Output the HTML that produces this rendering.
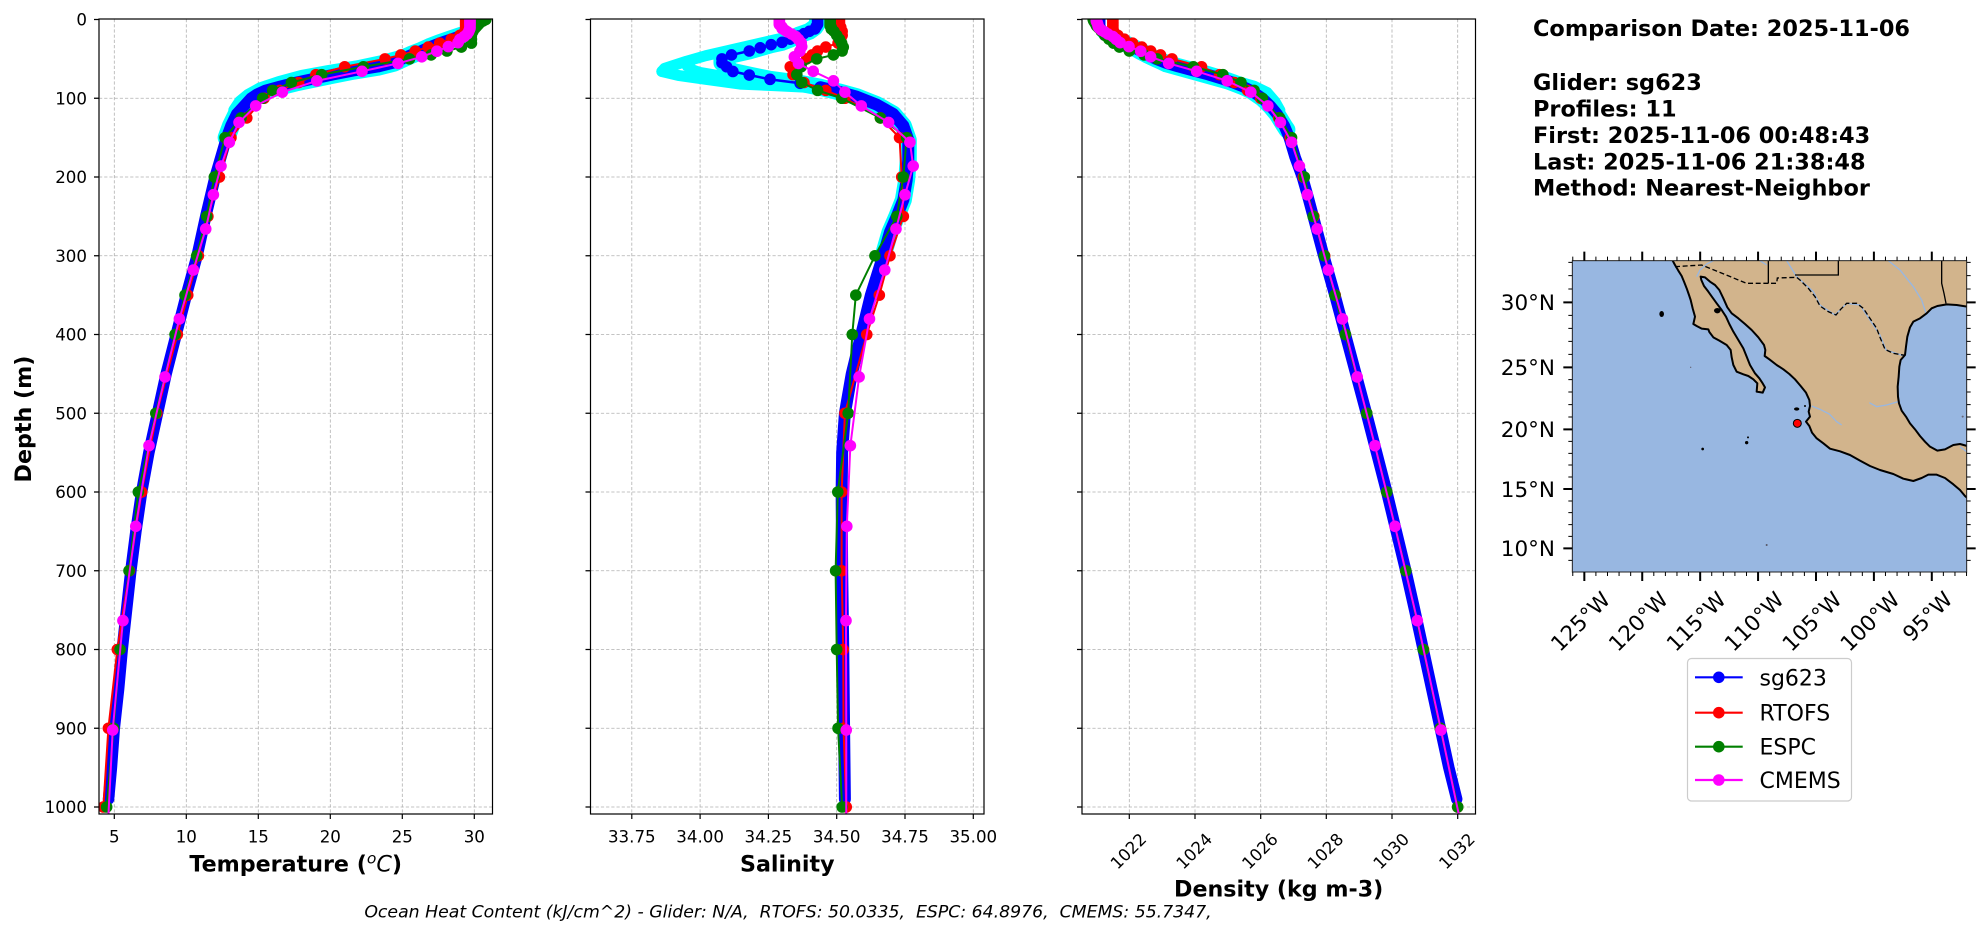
<!DOCTYPE html>
<html><head><meta charset="utf-8"><style>html,body{margin:0;padding:0;background:#fff}svg{display:block}</style></head>
<body>
<svg width="1978" height="934" viewBox="0 0 1978 934" xmlns="http://www.w3.org/2000/svg" font-family="DejaVu Sans, Liberation Sans, sans-serif">
<defs>
<clipPath id="c1"><rect x="99" y="19" width="393.5" height="795"/></clipPath>
<clipPath id="c2"><rect x="590.5" y="19" width="393.5" height="795"/></clipPath>
<clipPath id="c3"><rect x="1082" y="19" width="393.5" height="795"/></clipPath>
<clipPath id="cm"><rect x="277" y="32" width="1183" height="934"/></clipPath>
<marker id="tr" markerUnits="userSpaceOnUse" markerWidth="1" markerHeight="16" refX="0.5" refY="8" overflow="visible"><ellipse cx="0.5" cy="8" rx="0.4028" ry="7.365" fill="#ff0000"/></marker>
<marker id="tg" markerUnits="userSpaceOnUse" markerWidth="1" markerHeight="16" refX="0.5" refY="8" overflow="visible"><ellipse cx="0.5" cy="8" rx="0.4028" ry="7.365" fill="#008000"/></marker>
<marker id="tm" markerUnits="userSpaceOnUse" markerWidth="1" markerHeight="16" refX="0.5" refY="8" overflow="visible"><ellipse cx="0.5" cy="8" rx="0.4028" ry="7.365" fill="#ff00ff"/></marker>
<marker id="sb" markerUnits="userSpaceOnUse" markerWidth="0.05" markerHeight="16" refX="0.025" refY="8" overflow="visible"><ellipse cx="0.025" cy="8" rx="0.02123" ry="7.365" fill="#0000ff"/></marker>
<marker id="sr" markerUnits="userSpaceOnUse" markerWidth="0.05" markerHeight="16" refX="0.025" refY="8" overflow="visible"><ellipse cx="0.025" cy="8" rx="0.02123" ry="7.365" fill="#ff0000"/></marker>
<marker id="sg" markerUnits="userSpaceOnUse" markerWidth="0.05" markerHeight="16" refX="0.025" refY="8" overflow="visible"><ellipse cx="0.025" cy="8" rx="0.02123" ry="7.365" fill="#008000"/></marker>
<marker id="sm" markerUnits="userSpaceOnUse" markerWidth="0.05" markerHeight="16" refX="0.025" refY="8" overflow="visible"><ellipse cx="0.025" cy="8" rx="0.02123" ry="7.365" fill="#ff00ff"/></marker>
<marker id="dr" markerUnits="userSpaceOnUse" markerWidth="0.4" markerHeight="16" refX="0.2" refY="8" overflow="visible"><ellipse cx="0.2" cy="8" rx="0.1766" ry="7.365" fill="#ff0000"/></marker>
<marker id="dg" markerUnits="userSpaceOnUse" markerWidth="0.4" markerHeight="16" refX="0.2" refY="8" overflow="visible"><ellipse cx="0.2" cy="8" rx="0.1766" ry="7.365" fill="#008000"/></marker>
<marker id="dm" markerUnits="userSpaceOnUse" markerWidth="0.4" markerHeight="16" refX="0.2" refY="8" overflow="visible"><ellipse cx="0.2" cy="8" rx="0.1766" ry="7.365" fill="#ff00ff"/></marker>
</defs>
<rect width="1978" height="934" fill="#fff"/>

<!-- GRIDS -->
<g stroke="#b0b0b0" stroke-width="0.8" stroke-dasharray="3.2,2" fill="none">
<path d="M114.3 19V814M186.3 19V814M258.3 19V814M330.3 19V814M402.3 19V814M474.3 19V814"/>
<path d="M631.8 19V814M700.1 19V814M768.4 19V814M836.7 19V814M905 19V814M973.3 19V814"/>
<path d="M1129.3 19V814M1195 19V814M1260.7 19V814M1326.3 19V814M1392 19V814M1457.7 19V814"/>
<path d="M99 98.25H492.5M99 177H492.5M99 255.75H492.5M99 334.5H492.5M99 413.25H492.5M99 492H492.5M99 570.75H492.5M99 649.5H492.5M99 728.25H492.5M99 807H492.5"/>
<path d="M590.5 98.25H984M590.5 177H984M590.5 255.75H984M590.5 334.5H984M590.5 413.25H984M590.5 492H984M590.5 570.75H984M590.5 649.5H984M590.5 728.25H984M590.5 807H984"/>
<path d="M1082 98.25H1475.5M1082 177H1475.5M1082 255.75H1475.5M1082 334.5H1475.5M1082 413.25H1475.5M1082 492H1475.5M1082 570.75H1475.5M1082 649.5H1475.5M1082 728.25H1475.5M1082 807H1475.5"/>
</g>

<!-- PANEL 1 TEMPERATURE -->
<g clip-path="url(#c1)">
<g transform="translate(114.3,19.5) scale(14.4,0.7875) translate(-5,0)" fill="none" stroke-linejoin="round" stroke-linecap="round">
<polyline vector-effect="non-scaling-stroke" stroke="#00ffff" stroke-width="18" points="29.2,20 28.4,25 27.6,30 26.9,35 26.3,40 25.6,45 25.0,50 24.4,55 23.3,60 21.6,65 20.2,70 18.9,75 17.6,80 16.5,85 15.5,90 14.9,95 14.5,100 14.0,110 13.5,120 13.1,135 12.8,150"/>
<polyline vector-effect="non-scaling-stroke" stroke="#00ffff" stroke-width="11" points="28.8,22 27.8,28 26.6,36 25.2,44 23.6,52 21.8,59 19.8,65 18.0,71 16.4,79 15.1,87 14.3,95 13.7,104 13.3,115"/>
<polyline vector-effect="non-scaling-stroke" stroke="#0000ff" stroke-width="11.5" points="29.8,0 29.8,10 29.7,15 29.2,20 28.4,25 27.6,30 26.9,35 26.3,40 25.6,45 25.0,50 24.4,55 23.3,60 21.6,65 20.2,70 18.9,75 17.6,80 16.5,85 15.5,90 14.9,95 14.5,100 14.0,110 13.5,120 13.1,135 12.8,150 12.4,175 12.0,200 11.35,250 10.75,300 10.0,350 9.3,400 8.6,450 8.0,500 7.4,550 6.9,600 6.5,650 6.15,700 5.85,750 5.55,800 5.3,850 5.0,900 4.8,950 4.6,990"/>
<polyline vector-effect="non-scaling-stroke" stroke="#ff0000" stroke-width="2" marker-start="url(#tr)" marker-mid="url(#tr)" marker-end="url(#tr)" points="29.4,0 29.4,2 29.4,4 29.4,6 29.4,8 29.4,10 29.4,12 29.35,15 29.0,20 28.4,25 27.6,30 26.8,35 25.9,40 24.9,45 23.8,50 21.0,60 19.0,70 17.8,80 16.5,90 15.4,100 14.2,125 13.1,150 12.3,200 11.5,250 10.84,300 10.1,350 9.38,400 7.95,500 6.9,600 6.05,700 5.21,800 4.59,900 4.24,1000"/>
<polyline vector-effect="non-scaling-stroke" stroke="#008000" stroke-width="2" marker-start="url(#tg)" marker-mid="url(#tg)" marker-end="url(#tg)" points="30.8,0 30.6,2 30.4,4 30.3,6 30.2,8 30.1,10 30.0,12 29.9,15 29.8,20 29.8,25 29.8,30 29.1,35 28.1,40 27.0,45 25.5,50 22.3,60 19.4,70 17.3,80 16.0,90 15.3,100 13.8,125 12.69,150 11.95,200 11.42,250 10.72,300 9.91,350 9.22,400 7.88,500 6.67,600 6.02,700 5.4,800 4.95,900 4.47,1000"/>
<polyline vector-effect="non-scaling-stroke" stroke="#ff00ff" stroke-width="2" marker-start="url(#tm)" marker-mid="url(#tm)" marker-end="url(#tm)" points="29.7,0.5 29.7,1.5 29.7,2.6 29.7,3.8 29.7,5.1 29.7,6.4 29.7,7.9 29.7,9.6 29.7,11.4 29.65,13.5 29.6,15.8 29.5,18.5 29.3,21.6 29.0,25.2 28.87,29.4 28.2,34.4 27.4,40.3 26.35,47.4 24.7,55.8 22.2,65.8 19.06,77.9 16.67,92.3 14.82,109.7 13.66,130.7 12.99,155.9 12.41,186.1 11.88,222.5 11.35,266 10.49,318.1 9.52,380.2 8.52,453.9 7.41,541.1 6.49,643.6 5.6,763.3 4.89,902.3 4.45,1062"/>
</g></g>

<!-- PANEL 2 SALINITY -->
<g clip-path="url(#c2)">
<g transform="translate(836.7,19.5) scale(273.2,0.7875) translate(-34.5,0)" fill="none" stroke-linejoin="round" stroke-linecap="round">
<polyline vector-effect="non-scaling-stroke" stroke="#00ffff" stroke-width="17" points="34.43,0 34.43,5 34.42,10 34.40,15 34.36,20 34.33,25 34.30,29 34.26,32 34.22,36 34.18,40 34.115,45 34.08,50 34.08,55 34.097,60 34.12,66 34.18,70.5 34.256,76 34.366,81 34.44,86 34.51,92 34.573,98 34.646,108 34.707,120 34.744,135 34.762,153 34.762,178 34.756,204 34.744,229 34.72,250 34.695,270 34.67,300"/>
<polyline vector-effect="non-scaling-stroke" stroke="#00ffff" stroke-width="11" points="34.35,20 34.27,26 34.195,32 34.02,46 33.95,53 33.87,62 33.86,66"/>
<polyline vector-effect="non-scaling-stroke" stroke="#00ffff" stroke-width="11" points="33.86,66 33.92,71 34.02,76 34.146,82 34.27,84 34.39,86 34.49,84"/>
<polyline vector-effect="non-scaling-stroke" stroke="#00ffff" stroke-width="9" points="34.3,28 34.1,40 33.98,50 33.95,60 34.0,66 34.1,72"/>
<polyline vector-effect="non-scaling-stroke" stroke="#0000ff" stroke-width="12" points="34.44,86 34.51,92 34.573,98 34.646,108 34.707,120 34.744,135 34.762,153 34.762,178 34.756,204 34.744,229 34.72,250 34.695,270 34.67,300 34.625,350 34.59,400 34.555,450 34.53,500 34.52,550 34.518,600 34.52,700 34.524,800 34.527,900 34.53,990"/>
<polyline vector-effect="non-scaling-stroke" stroke="#0000ff" stroke-width="2.5" marker-start="url(#sb)" marker-mid="url(#sb)" marker-end="url(#sb)" points="34.43,0 34.43,3 34.43,6 34.425,9 34.42,12 34.40,15 34.38,18 34.36,21 34.33,25 34.30,29 34.26,32 34.22,36 34.18,40 34.115,45 34.08,50 34.08,55 34.097,60 34.12,66 34.18,70.5 34.256,76 34.366,81 34.44,86 34.51,92"/>
<polyline vector-effect="non-scaling-stroke" stroke="#ff0000" stroke-width="2" marker-start="url(#sr)" marker-mid="url(#sr)" marker-end="url(#sr)" points="34.51,0 34.51,2 34.51,4 34.51,6 34.51,8 34.515,10 34.515,12 34.52,15 34.52,20 34.515,25 34.505,30 34.46,35 34.43,40 34.41,45 34.39,50 34.33,60 34.34,70 34.38,80 34.46,90 34.53,100 34.66,125 34.73,150 34.738,200 34.744,250 34.695,300 34.656,350 34.61,400 34.53,500 34.518,600 34.518,700 34.524,800 34.525,900 34.535,1000"/>
<polyline vector-effect="non-scaling-stroke" stroke="#008000" stroke-width="2" marker-start="url(#sg)" marker-mid="url(#sg)" marker-end="url(#sg)" points="34.476,0 34.476,2 34.476,4 34.476,6 34.476,8 34.48,10 34.48,12 34.49,15 34.50,20 34.51,25 34.518,30 34.524,35 34.52,40 34.488,45 34.427,50 34.37,60 34.354,70 34.372,80 34.43,90 34.518,100 34.66,125 34.756,150 34.744,200 34.72,250 34.64,300 34.57,350 34.557,400 34.542,500 34.504,600 34.496,700 34.5,800 34.505,900 34.52,1000"/>
<polyline vector-effect="non-scaling-stroke" stroke="#ff00ff" stroke-width="2" marker-start="url(#sm)" marker-mid="url(#sm)" marker-end="url(#sm)" points="34.29,0.5 34.29,1.5 34.29,2.6 34.29,3.8 34.29,5.1 34.29,6.4 34.295,7.9 34.30,9.6 34.30,11.4 34.31,13.5 34.32,15.8 34.335,18.5 34.35,21.6 34.36,25.2 34.37,29.4 34.372,34.4 34.365,40.3 34.345,47.4 34.36,55.8 34.414,65.8 34.488,77.9 34.53,92.3 34.59,109.7 34.69,130.7 34.768,155.9 34.78,186.1 34.75,222.5 34.717,266 34.676,318.1 34.62,380.2 34.582,453.9 34.55,541.1 34.537,643.6 34.534,763.3 34.535,902.3 34.535,1062"/>
</g></g>

<!-- PANEL 3 DENSITY -->
<g clip-path="url(#c3)">
<g transform="translate(1129.3,19.5) scale(32.84,0.7875) translate(-1022,0)" fill="none" stroke-linejoin="round" stroke-linecap="round">
<polyline vector-effect="non-scaling-stroke" stroke="#00ffff" stroke-width="17" points="1021.6,25 1021.85,30 1022.1,35 1022.35,40 1022.55,45 1022.8,50 1023.1,55 1023.5,60 1023.95,65 1024.4,70 1024.8,75 1025.15,80 1025.45,85 1025.7,90 1026.05,100 1026.3,110 1026.5,120 1026.72,135 1026.8,140"/>
<polyline vector-effect="non-scaling-stroke" stroke="#00ffff" stroke-width="11" points="1021.2,18 1021.5,26 1021.9,34 1022.3,44 1022.7,52 1023.1,60 1023.7,67 1024.4,75 1025.0,82 1025.5,90 1025.9,98 1026.25,108"/>
<polyline vector-effect="non-scaling-stroke" stroke="#00ffff" stroke-width="10" points="1025.3,78 1025.8,84 1026.2,92 1026.45,104 1026.6,115"/>
<polyline vector-effect="non-scaling-stroke" stroke="#0000ff" stroke-width="11.5" points="1021.1,0 1021.1,10 1021.2,15 1021.35,20 1021.6,25 1021.85,30 1022.1,35 1022.35,40 1022.55,45 1022.8,50 1023.1,55 1023.5,60 1023.95,65 1024.4,70 1024.8,75 1025.15,80 1025.45,85 1025.7,90 1026.05,100 1026.3,110 1026.5,120 1026.72,135 1026.87,150 1027.05,175 1027.27,200 1027.42,222 1027.6,250 1027.92,300 1028.26,350 1028.58,400 1028.9,450 1029.22,500 1029.53,550 1029.84,600 1030.13,650 1030.42,700 1030.69,750 1030.95,800 1031.21,850 1031.47,900 1031.73,950 1031.97,990"/>
<polyline vector-effect="non-scaling-stroke" stroke="#ff0000" stroke-width="2" marker-start="url(#dr)" marker-mid="url(#dr)" marker-end="url(#dr)" points="1021.5,0 1021.5,2 1021.5,4 1021.5,6 1021.5,8 1021.5,10 1021.5,12 1021.52,15 1021.65,20 1021.85,25 1022.1,30 1022.38,35 1022.65,40 1022.95,45 1023.3,50 1024.2,60 1024.75,70 1025.2,80 1025.6,90 1026.0,100 1026.55,125 1026.9,150 1027.3,200 1027.62,250 1027.95,300 1028.27,350 1028.58,400 1029.23,500 1029.84,600 1030.42,700 1030.96,800 1031.47,900 1032.0,1000"/>
<polyline vector-effect="non-scaling-stroke" stroke="#008000" stroke-width="2" marker-start="url(#dg)" marker-mid="url(#dg)" marker-end="url(#dg)" points="1020.9,0 1020.92,2 1020.95,4 1020.98,6 1021.0,8 1021.05,10 1021.1,12 1021.15,15 1021.25,20 1021.38,25 1021.52,30 1021.7,35 1022.0,40 1022.45,45 1022.85,50 1023.95,60 1024.85,70 1025.4,80 1025.8,90 1026.05,100 1026.58,125 1026.94,150 1027.33,200 1027.6,250 1027.94,300 1028.26,350 1028.58,400 1029.23,500 1029.84,600 1030.42,700 1030.95,800 1031.47,900 1032.0,1000"/>
<polyline vector-effect="non-scaling-stroke" stroke="#ff00ff" stroke-width="2" marker-start="url(#dm)" marker-mid="url(#dm)" marker-end="url(#dm)" points="1021.0,0.5 1021.0,1.5 1021.0,2.6 1021.02,3.8 1021.03,5.1 1021.04,6.4 1021.05,7.9 1021.06,9.6 1021.1,11.4 1021.15,13.5 1021.25,15.8 1021.35,18.5 1021.5,21.6 1021.6,25.2 1021.72,29.4 1021.99,34.4 1022.35,40.3 1022.65,47.4 1023.2,55.8 1024.05,65.8 1024.98,77.9 1025.7,92.3 1026.22,109.7 1026.6,130.7 1026.94,155.9 1027.18,186.1 1027.42,222.5 1027.72,266 1028.06,318.1 1028.49,380.2 1028.94,453.9 1029.48,541.1 1030.09,643.6 1030.77,763.3 1031.49,902.3 1032.3,1062"/>
</g></g>

<!-- SPINES & TICKS -->
<g fill="none" stroke="#000" stroke-width="1.2">
<rect x="99" y="19" width="393.5" height="795"/>
<rect x="590.5" y="19" width="393.5" height="795"/>
<rect x="1082" y="19" width="393.5" height="795"/>
<path d="M114.3 814v5M186.3 814v5M258.3 814v5M330.3 814v5M402.3 814v5M474.3 814v5"/>
<path d="M631.8 814v5M700.1 814v5M768.4 814v5M836.7 814v5M905 814v5M973.3 814v5"/>
<path d="M1129.3 814v5M1195 814v5M1260.7 814v5M1326.3 814v5M1392 814v5M1457.7 814v5"/>
<path d="M94 19.5h5M94 98.25h5M94 177h5M94 255.75h5M94 334.5h5M94 413.25h5M94 492h5M94 570.75h5M94 649.5h5M94 728.25h5M94 807h5"/>
<path d="M585.5 19.5h5M585.5 98.25h5M585.5 177h5M585.5 255.75h5M585.5 334.5h5M585.5 413.25h5M585.5 492h5M585.5 570.75h5M585.5 649.5h5M585.5 728.25h5M585.5 807h5"/>
<path d="M1077 19.5h5M1077 98.25h5M1077 177h5M1077 255.75h5M1077 334.5h5M1077 413.25h5M1077 492h5M1077 570.75h5M1077 649.5h5M1077 728.25h5M1077 807h5"/>
</g>

<!-- TICK LABELS -->
<g font-size="16.67" fill="#000" text-anchor="end">
<text x="87" y="25.5">0</text><text x="87" y="104.25">100</text><text x="87" y="183">200</text><text x="87" y="261.75">300</text><text x="87" y="340.5">400</text><text x="87" y="419.25">500</text><text x="87" y="498">600</text><text x="87" y="576.75">700</text><text x="87" y="655.5">800</text><text x="87" y="734.25">900</text><text x="87" y="813">1000</text>
</g>
<g font-size="16.67" fill="#000" text-anchor="middle">
<text x="114.3" y="842.3">5</text><text x="186.3" y="842.3">10</text><text x="258.3" y="842.3">15</text><text x="330.3" y="842.3">20</text><text x="402.3" y="842.3">25</text><text x="474.3" y="842.3">30</text>
<text x="631.8" y="842.3">33.75</text><text x="700.1" y="842.3">34.00</text><text x="768.4" y="842.3">34.25</text><text x="836.7" y="842.3">34.50</text><text x="905" y="842.3">34.75</text><text x="973.3" y="842.3">35.00</text>
<text transform="translate(1128.3,851) rotate(-45)" y="6">1022</text>
<text transform="translate(1194,851) rotate(-45)" y="6">1024</text>
<text transform="translate(1259.7,851) rotate(-45)" y="6">1026</text>
<text transform="translate(1325.3,851) rotate(-45)" y="6">1028</text>
<text transform="translate(1391,851) rotate(-45)" y="6">1030</text>
<text transform="translate(1456.7,851) rotate(-45)" y="6">1032</text>
</g>

<!-- AXIS LABELS -->
<g font-size="22.2" font-weight="bold" fill="#000" text-anchor="middle">
<text x="295.7" y="871.7">Temperature (<tspan font-weight="normal" font-style="italic" font-size="15.5" dy="-8">o</tspan><tspan font-weight="normal" font-style="italic" dy="8">C</tspan>)</text>
<text x="787.3" y="871.7">Salinity</text>
<text x="1278.7" y="896.5">Density (kg m-3)</text>
<text transform="translate(31,419) rotate(-90)">Depth (m)</text>
</g>
<text x="788" y="917.5" font-size="17.3" font-style="italic" text-anchor="middle" fill="#000" xml:space="preserve">Ocean Heat Content (kJ/cm^2) - Glider: N/A,  RTOFS: 50.0335,  ESPC: 64.8976,  CMEMS: 55.7347,</text>

<!-- INFO TEXT -->
<g font-size="22.4" font-weight="bold" fill="#000">
<text x="1533" y="36">Comparison Date: 2025-11-06</text>
<text x="1533" y="90">Glider: sg623</text>
<text x="1533" y="116.5">Profiles: 11</text>
<text x="1533" y="143">First: 2025-11-06 00:48:43</text>
<text x="1533" y="169.3">Last: 2025-11-06 21:38:48</text>
<text x="1533" y="195.5">Method: Nearest-Neighbor</text>
</g>

<!-- MAP -->
<g transform="translate(1480,250) scale(0.333333)">
<rect x="277" y="32" width="1183" height="934" fill="#98b7e1"/>
<g clip-path="url(#cm)">
<polygon fill="#d2b48c" points="578,32 585,45 595,62 605,78 612,95 620,115 627,135 632,150 638,175 645,200 640,222 650,228 665,236 685,238 688,246 700,262 718,272 740,285 752,300 755,322 760,345 770,365 790,373 805,378 820,388 832,400 830,425 848,428 855,412 848,400 838,385 825,370 810,345 800,320 790,295 775,270 760,245 748,222 738,200 725,180 710,160 697,142 685,125 672,108 664,90 662,80 675,82 690,95 705,105 718,120 730,145 742,172 755,190 775,205 795,222 815,240 835,262 852,285 856,300 854,318 868,328 890,345 910,358 928,372 945,388 962,408 978,428 988,450 990,468 986,485 990,500 978,515 988,528 996,548 1010,565 1030,580 1050,596 1080,604 1110,615 1140,632 1170,648 1200,660 1240,672 1270,686 1300,693 1325,684 1345,674 1370,674 1395,684 1420,703 1440,720 1455,738 1462,744 1462,588 1440,582 1420,585 1395,598 1372,602 1350,590 1335,575 1320,558 1305,538 1290,520 1278,500 1265,482 1257,460 1254,440 1253,410 1256,380 1258,350 1262,330 1275,315 1278,290 1282,260 1290,232 1300,215 1320,205 1340,190 1355,175 1372,168 1400,163 1430,165 1462,170 1462,30 578,30"/>
<g fill="none" stroke="#98b7e1" stroke-width="4">
<polyline points="650,80 660,60 680,42 700,32"/>
<polyline points="840,32 860,45"/>
<polyline points="920,32 950,80 1000,125 1020,165 1065,195 1100,160 1140,165 1200,255 1218,300 1272,318"/>
<polyline points="1225,32 1260,60 1300,110 1325,150 1338,190"/>
<polyline points="1168,458 1190,470 1220,465 1255,455"/>
<polyline points="995,468 1020,478 1048,492 1070,515 1085,525"/>
<polyline points="1440,590 1460,605"/>
</g>
<g fill="none" stroke="#000" stroke-width="6" stroke-linejoin="round">
<polyline points="578,32 585,45 595,62 605,78 612,95 620,115 627,135 632,150 638,175 645,200 640,222 650,228 665,236 685,238 688,246 700,262 718,272 740,285 752,300 755,322 760,345 770,365 790,373 805,378 820,388 832,400 830,425 848,428 855,412 848,400 838,385 825,370 810,345 800,320 790,295 775,270 760,245 748,222 738,200 725,180 710,160 697,142 685,125 672,108 664,90 662,80 675,82 690,95 705,105 718,120 730,145 742,172 755,190 775,205 795,222 815,240 835,262 852,285 856,300 854,318 868,328 890,345 910,358 928,372 945,388 962,408 978,428 988,450 990,468 986,485 990,500 978,515 988,528 996,548 1010,565 1030,580 1050,596 1080,604 1110,615 1140,632 1170,648 1200,660 1240,672 1270,686 1300,693 1325,684 1345,674 1370,674 1395,684 1420,703 1440,720 1455,738 1462,744"/>
<polyline points="1462,588 1440,582 1420,585 1395,598 1372,602 1350,590 1335,575 1320,558 1305,538 1290,520 1278,500 1265,482 1257,460 1254,440 1253,410 1256,380 1258,350 1262,330 1275,315 1278,290 1282,260 1290,232 1300,215 1320,205 1340,190 1355,175 1372,168 1400,163 1430,165 1462,170"/>
</g>
<g fill="none" stroke="#000" stroke-width="4" stroke-dasharray="15,8">
<polyline points="585,50 665,45 800,100 890,100 892,84 950,82 962,92 985,115 1005,140 1020,168 1045,185 1068,195 1082,178 1100,160 1130,160 1150,175 1170,205 1190,235 1200,262 1215,298 1240,310 1275,316"/>
</g>
<g fill="none" stroke="#000" stroke-width="4">
<polyline points="865,32 865,100"/>
<polyline points="945,75 1075,75 1075,32"/>
<polyline points="1385,32 1385,100 1392,130 1398,160"/>
</g>
<g fill="#000">
<ellipse cx="545" cy="192" rx="7" ry="9"/>
<circle cx="668" cy="597" r="4"/>
<circle cx="800" cy="578" r="5"/>
<circle cx="804" cy="562" r="3"/>
<ellipse cx="950" cy="477" rx="8" ry="5"/>
<ellipse cx="712" cy="182" rx="10" ry="8"/>
<circle cx="975" cy="468" r="3"/>
<circle cx="860" cy="885" r="3" fill="#556"/>
<circle cx="1448" cy="500" r="3" fill="#667"/>
<circle cx="632" cy="352" r="2" fill="#667"/>
</g>
<circle cx="952" cy="520" r="12" fill="#ff0000" stroke="#000" stroke-width="3"/>
</g>
<rect x="277" y="32" width="1183" height="934" fill="none" stroke="#222" stroke-width="3"/>
<g stroke="#000" stroke-width="6" fill="none">
<path d="M313 32v-27M486.7 32v-27M660.5 32v-27M834.2 32v-27M1008 32v-27M1181.7 32v-27M1355.4 32v-27"/>
<path d="M313 966v27M486.7 966v27M660.5 966v27M834.2 966v27M1008 966v27M1181.7 966v27M1355.4 966v27"/>
<path d="M277 157h-27M277 352h-27M277 538h-27M277 717h-27M277 895h-27"/>
<path d="M1460 157h27M1460 352h27M1460 538h27M1460 717h27M1460 895h27"/>
</g>
<g stroke="#000" stroke-width="3" fill="none">
<path d="M278.3 32v-12M347.7 32v-12M382.5 32v-12M417.2 32v-12M452 32v-12M521.4 32v-12M556.2 32v-12M590.9 32v-12M625.7 32v-12M695.2 32v-12M730 32v-12M764.7 32v-12M799.5 32v-12M869 32v-12M903.7 32v-12M938.5 32v-12M973.2 32v-12M1042.7 32v-12M1077.5 32v-12M1112.2 32v-12M1147 32v-12M1216.4 32v-12M1251.2 32v-12M1285.9 32v-12M1320.7 32v-12M1390.1 32v-12M1424.9 32v-12M1459.6 32v-12"/>
<path d="M278.3 966v12M347.7 966v12M382.5 966v12M417.2 966v12M452 966v12M521.4 966v12M556.2 966v12M590.9 966v12M625.7 966v12M695.2 966v12M730 966v12M764.7 966v12M799.5 966v12M869 966v12M903.7 966v12M938.5 966v12M973.2 966v12M1042.7 966v12M1077.5 966v12M1112.2 966v12M1147 966v12M1216.4 966v12M1251.2 966v12M1285.9 966v12M1320.7 966v12M1390.1 966v12M1424.9 966v12M1459.6 966v12"/>
<path d="M277 37h-12M277 77h-12M277 117h-12M277 196h-12M277 235h-12M277 274h-12M277 313h-12M277 389h-12M277 426h-12M277 464h-12M277 501h-12M277 574h-12M277 610h-12M277 645h-12M277 681h-12M277 753h-12M277 788h-12M277 824h-12M277 859h-12M277 931h-12"/>
<path d="M1460 37h12M1460 77h12M1460 117h12M1460 196h12M1460 235h12M1460 274h12M1460 313h12M1460 389h12M1460 426h12M1460 464h12M1460 501h12M1460 574h12M1460 610h12M1460 645h12M1460 681h12M1460 753h12M1460 788h12M1460 824h12M1460 859h12M1460 931h12"/>
</g>
</g>
<g font-size="21.5" fill="#000" text-anchor="end">
<text x="1555" y="310">30°N</text>
<text x="1555" y="375">25°N</text>
<text x="1555" y="437">20°N</text>
<text x="1555" y="496.8">15°N</text>
<text x="1555" y="556">10°N</text>
</g>
<g font-size="21.5" fill="#000" text-anchor="middle">
<text transform="translate(1581.5,622.5) rotate(-45)" y="6">125°W</text>
<text transform="translate(1639.3,622.5) rotate(-45)" y="6">120°W</text>
<text transform="translate(1697.2,622.5) rotate(-45)" y="6">115°W</text>
<text transform="translate(1755.1,622.5) rotate(-45)" y="6">110°W</text>
<text transform="translate(1813,622.5) rotate(-45)" y="6">105°W</text>
<text transform="translate(1870.9,622.5) rotate(-45)" y="6">100°W</text>
<text transform="translate(1928.5,617.5) rotate(-45)" y="6">95°W</text>
</g>

<!-- LEGEND -->
<rect x="1687.5" y="658.5" width="164" height="142.5" rx="4" ry="4" fill="#fff" stroke="#cccccc" stroke-width="1.2"/>
<g stroke-width="2.2">
<line x1="1695" y1="677.3" x2="1742.7" y2="677.3" stroke="#0000ff"/><circle cx="1718.8" cy="677.3" r="5.8" fill="#0000ff"/>
<line x1="1695" y1="712.7" x2="1742.7" y2="712.7" stroke="#ff0000"/><circle cx="1718.8" cy="712.7" r="5.8" fill="#ff0000"/>
<line x1="1695" y1="746.7" x2="1742.7" y2="746.7" stroke="#008000"/><circle cx="1718.8" cy="746.7" r="5.8" fill="#008000"/>
<line x1="1695" y1="780" x2="1742.7" y2="780" stroke="#ff00ff"/><circle cx="1718.8" cy="780" r="5.8" fill="#ff00ff"/>
</g>
<g font-size="22" fill="#000">
<text x="1759.5" y="685.3">sg623</text>
<text x="1759.5" y="720.7">RTOFS</text>
<text x="1759.5" y="754.7">ESPC</text>
<text x="1759.5" y="788">CMEMS</text>
</g>
</svg>
</body></html>
